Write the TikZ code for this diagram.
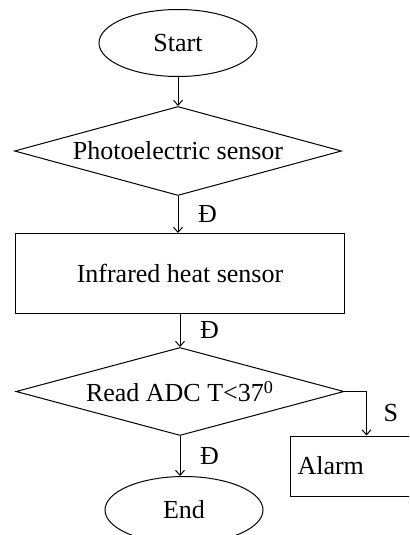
\documentclass[tikz,border=0pt]{standalone}
\usepackage{fontspec}
\setmainfont{Liberation Serif}
\usepackage{tikz}
\usetikzlibrary{shapes.geometric, arrows.meta, positioning}

\begin{document}
\begin{tikzpicture}[x=0.5pt, y=-0.5pt, >={Straight Barb[length=2.5pt,width=4.5pt]}, line width=0.5pt, every node/.style={font=\fontsize{13}{15}\selectfont}]
    \tikzstyle{terminal} = [ellipse, draw, minimum width=79pt, minimum height=33.5pt, inner sep=0pt, text centered]
    \tikzstyle{decision} = [diamond, draw, aspect=3.7, minimum width=164pt, minimum height=44pt, inner sep=0pt, text centered]
    \tikzstyle{process} = [rectangle, draw, minimum width=164.5pt, minimum height=40pt, text centered]
    \tikzstyle{lbl} = [right, xshift=6.5pt]

    \clip (0,0) rectangle (409,535);

    \node [terminal] (start) at (178,43) {Start};
    \node [decision, below=14.5pt of start, minimum width=163.5pt, minimum height=44.5pt] (photo) {Photoelectric sensor};
    \node [process, below=18.5pt of photo, xshift=1pt] (infra) {Infrared heat sensor};
    \node [decision, below=16.5pt of infra] (adc) {Read ADC T<37\textsuperscript{0}};
    \node [terminal, below=20pt of adc, xshift=2pt] (end) {End};
    \node [rectangle, draw, below=22pt of adc.east, xshift=11pt, minimum width=76pt, minimum height=30pt, inner sep=3.5pt, text width=69pt, align=left] (alarm) {Alarm};

    \path [draw, ->] (start) -- (photo);
    \path [draw, ->] (photo) -- node [lbl] {Đ} (photo.south |- infra.north);
    \path [draw, ->] (infra) -- node [lbl] {Đ} (adc);
    \path [draw, ->] (adc.south) -- node [lbl] {Đ} (adc.south |- end.north);
    \path [draw, ->] (adc.east) -| node [right, xshift=5pt, pos=0.75] {S} (alarm.north);
\end{tikzpicture}
\end{document}
